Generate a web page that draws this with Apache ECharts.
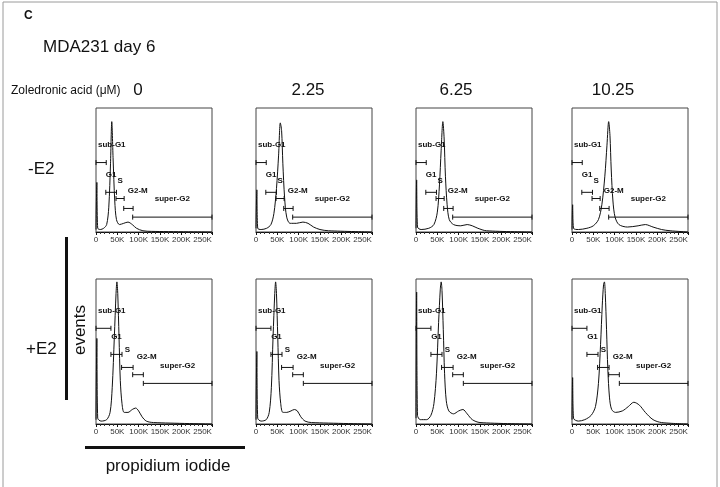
<!DOCTYPE html>
<html lang="en">
<head>
<meta charset="UTF-8">
<title>MDA231 day 6</title>
<script src="https://cdn.jsdelivr.net/npm/echarts@6/dist/echarts.min.js"></script>
<style>
    html, body { margin: 0; padding: 0; background: #fff; }
    #main { width: 720px; height: 487px; }
</style>
</head>
<body>
<div id="main"></div>
<script type="text/javascript">
// doses (column headers) and E2 rows
var doses = ['0', '2.25', '6.25', '10.25'];
var rows = ['-E2', '+E2'];
var gateNames = ['sub-G1', 'G1', 'S', 'G2-M', 'super-G2'];

// gates: [from (K), to (K), height (% of panel)]
var gatesMinus = [[0, 24, 56], [23, 48, 32], [47, 66, 27], [65, 87, 19], [86, 272, 12]];
var gatesPlus = [[0, 35, 66], [35, 61, 48], [60, 87, 39], [86, 111, 34], [111, 272, 28]];

// histograms: [propidium iodide (K), events (% of panel)]
var minus0 = [[0,2],[2,40],[4,3],[10,2],[18,3],[25,6],[30,20],[34,55],[37,89],[40,60],[44,25],[48,10],[55,6],[65,7],[75,8],[85,6],[95,3],[110,1],[130,0.5],[272,0]];
var minus225 = [[0,3],[2,34],[4,3],[12,2],[25,3],[35,6],[42,15],[48,35],[53,62],[57,88],[60,82],[63,55],[67,28],[72,12],[80,7],[95,7],[110,8],[122,7],[135,4],[150,2],[170,1],[272,0]];
var minus625 = [[0,3],[1.5,42],[3.5,4],[12,2],[30,3],[42,6],[50,16],[55,38],[59,66],[63,89],[66,75],[69,45],[73,22],[78,10],[88,6],[105,5],[120,6],[132,5],[145,3],[165,1],[272,0]];
var minus1025 = [[0,2],[1.5,22],[3.5,3],[15,2],[35,3],[50,5],[62,10],[70,22],[77,45],[82,70],[86,89],[89,78],[92,50],[96,25],[101,12],[110,6],[130,4],[155,5],[172,6],[190,4],[210,2],[230,1],[272,0]];
var plus0 = [[0,3],[2,59],[4,4],[12,2],[25,3],[33,8],[38,25],[43,60],[47,90],[49,98],[51,90],[54,60],[57,30],[61,14],[66,8],[75,8],[85,10],[93,11],[100,9],[108,5],[118,2],[135,1],[272,0]];
var plus225 = [[0,3],[2,50],[4,4],[12,2],[24,3],[31,8],[36,25],[40,60],[44,90],[46,98],[48,90],[51,60],[54,30],[58,14],[63,8],[72,8],[82,9],[90,10],[97,9],[105,5],[115,2],[130,1],[272,0]];
var plus625 = [[0,4],[1.5,91],[3.5,6],[10,3],[25,3],[35,6],[42,14],[48,35],[53,70],[57,93],[59,98],[61,92],[64,65],[67,35],[71,16],[77,9],[88,7],[100,9],[110,10],[120,7],[132,3],[150,1],[272,0]];
var plus1025 = [[0,3],[1.5,32],[3.5,4],[15,2],[30,3],[45,6],[55,12],[62,28],[67,55],[71,82],[74,96],[76,98],[78,90],[81,65],[84,38],[88,18],[93,10],[102,8],[118,9],[132,12],[145,15],[158,13],[172,8],[190,3],[210,1],[272,0]];

var curves = [minus0, minus225, minus625, minus1025, plus0, plus225, plus625, plus1025];

var myChart = echarts.init(document.getElementById('main'), null, {renderer: 'canvas'});

var lefts = [96, 256, 416, 572];
var tops = [108, 279];
var heights = [124, 145];
var W = 116;
var ink = '#111';
var labelFont = 'bold 8px "Liberation Sans", Arial, sans-serif';

var measure = document.createElement('canvas').getContext('2d');
measure.font = labelFont;

var grids = [], xAxes = [], yAxes = [], series = [];
for (var i = 0; i < 8; i++) {
    var r = Math.floor(i / 4), c = i % 4;
    grids.push({left: lefts[c], top: tops[r], width: W, height: heights[r], show: true,
        borderColor: '#444', borderWidth: 1, backgroundColor: 'transparent'});
    xAxes.push({
        gridIndex: i, type: 'value', min: 0, max: 272, interval: 50,
        axisLine: {lineStyle: {color: ink, width: 1}},
        axisTick: {length: 3, lineStyle: {color: ink}},
        minorTick: {show: true, splitNumber: 5, length: 2, lineStyle: {color: '#333'}},
        splitLine: {show: false},
        axisLabel: {showMaxLabel: false, margin: 4, color: '#333', fontSize: 8,
            fontFamily: 'Liberation Sans',
            formatter: function (v) { return v === 0 ? '0' : v + 'K'; }}
    });
    yAxes.push({gridIndex: i, type: 'value', min: 0, max: 100, show: false});
    series.push({
        type: 'line', xAxisIndex: i, yAxisIndex: i, data: curves[i],
        showSymbol: false, smooth: 0.3, silent: true,
        lineStyle: {color: ink, width: 1}
    });
    series.push({
        type: 'custom', xAxisIndex: i, yAxisIndex: i, silent: true,
        data: r === 0 ? gatesMinus : gatesPlus,
        renderItem: function (params, api) {
            var a = api.coord([api.value(0), api.value(2)]);
            var b = api.coord([api.value(1), api.value(2)]);
            var cs = params.coordSys;
            var name = gateNames[params.dataIndex];
            var tw = measure.measureText(name).width;
            var cx = (a[0] + b[0]) / 2;
            // G2-M label sits a little right of its gate
            if (name === 'G2-M') cx = a[0] + 4 + tw / 2;
            cx = Math.max(cx, cs.x + 2 + tw / 2);
            cx = Math.min(cx, cs.x + cs.width - 2 - tw / 2);
            var st = {stroke: ink, lineWidth: 1};
            return {type: 'group', children: [
                {type: 'line', shape: {x1: a[0], y1: a[1], x2: b[0], y2: b[1]}, style: st},
                {type: 'line', shape: {x1: a[0], y1: a[1] - 2.5, x2: a[0], y2: a[1] + 2.5}, style: st},
                {type: 'line', shape: {x1: b[0], y1: b[1] - 2.5, x2: b[0], y2: b[1] + 2.5}, style: st},
                {type: 'text', style: {text: name, x: cx, y: a[1] - 18,
                    align: 'center', verticalAlign: 'middle',
                    textAlign: 'center', textVerticalAlign: 'middle',
                    font: labelFont, fill: ink}}
            ]};
        }
    });
}

function txt(t, x, y, size, opts) {
    opts = opts || {};
    return {type: 'text', x: x, y: y, rotation: opts.rot || 0,
        style: {text: t, fill: ink,
            font: (opts.bold ? 'bold ' : '') + size + 'px "Liberation Sans", Arial, sans-serif',
            align: opts.align || 'left', verticalAlign: 'middle',
            textAlign: opts.align || 'left', textVerticalAlign: 'middle'}};
}

var doseX = [138, 308, 456, 613];
var graphics = [
    {type: 'rect', shape: {x: 3, y: 2, width: 714, height: 520},
        style: {fill: 'none', stroke: '#9a9a9a', lineWidth: 1}},
    txt('C', 24, 16, 12, {bold: true}),
    txt('MDA231 day 6', 43, 47, 17),
    txt('Zoledronic acid (\u03bcM)', 11, 91, 12),
    txt(rows[0], 28, 169, 17),
    txt(rows[1], 26, 349, 17),
    txt('events', 80, 330, 17, {rot: Math.PI / 2, align: 'center'}),
    {type: 'rect', shape: {x: 65, y: 237, width: 3, height: 163}, style: {fill: ink}},
    {type: 'rect', shape: {x: 85, y: 446, width: 160, height: 3}, style: {fill: ink}},
    txt('propidium iodide', 168, 466, 17, {align: 'center'})
];
for (var d = 0; d < doses.length; d++) {
    graphics.push(txt(doses[d], doseX[d], 90, 17, {align: 'center'}));
}

var option = {
    animation: false,
    backgroundColor: '#fff',
    grid: grids,
    xAxis: xAxes,
    yAxis: yAxes,
    series: series,
    graphic: graphics
};

myChart.setOption(option);
</script>
</body>
</html>
